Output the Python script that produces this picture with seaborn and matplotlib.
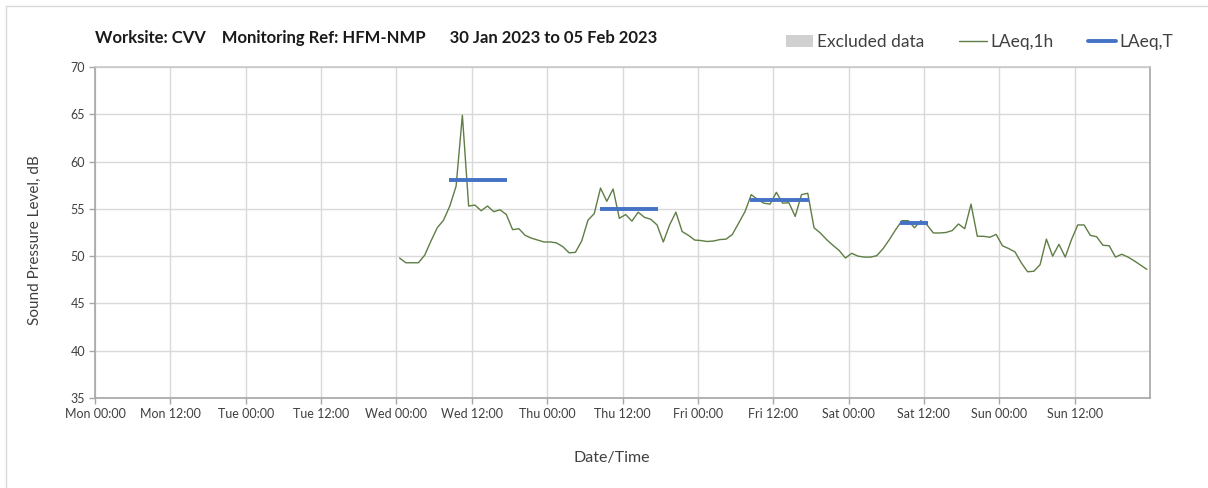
import pandas as pd
import matplotlib
matplotlib.use("Agg")
import matplotlib.pyplot as plt
from matplotlib.patches import Patch
from matplotlib.lines import Line2D
import seaborn as sns

# ===== DATA =====
first_hour = "2023-02-01 00:30"

laeq_1h = [
    # Wed
    49.8, 49.3, 49.3, 49.3, 50.1, 51.6, 53.0, 53.8, 55.3, 57.4, 64.9, 55.3,
    55.4, 54.8, 55.3, 54.7, 54.9, 54.4, 52.8, 52.9, 52.2, 51.9, 51.7, 51.5,
    # Thu
    51.5, 51.4, 51.0, 50.35, 50.4, 51.6, 53.8, 54.5, 57.2, 55.8, 57.1, 54.0,
    54.4, 53.7, 54.65, 54.1, 53.9, 53.3, 51.5, 53.3, 54.65, 52.6, 52.2, 51.7,
    # Fri
    51.65, 51.55, 51.6, 51.75, 51.8, 52.3, 53.5, 54.7, 56.5, 56.0, 55.6, 55.5,
    56.75, 55.6, 55.65, 54.2, 56.5, 56.65, 53.0, 52.45, 51.75, 51.15, 50.6, 49.8,
    # Sat
    50.3, 50.0, 49.9, 49.9, 50.05, 50.8, 51.75, 52.8, 53.75, 53.75, 53.0, 53.75,
    53.3, 52.45, 52.45, 52.5, 52.7, 53.4, 52.9, 55.5, 52.1, 52.1, 52.0, 52.3,
    # Sun
    51.1, 50.8, 50.45, 49.3, 48.35, 48.4, 49.1, 51.8, 50.0, 51.25, 49.9, 51.75,
    53.3, 53.3, 52.2, 52.05, 51.15, 51.1, 49.9, 50.2, 49.9, 49.5, 49.05, 48.6,
]

period_start = ["2023-02-01 08:24", "2023-02-02 08:24", "2023-02-03 08:15", "2023-02-04 08:12"]
period_end = ["2023-02-01 17:36", "2023-02-02 17:40", "2023-02-03 17:42", "2023-02-04 12:36"]
laeq_t = [58.0, 55.0, 55.9, 53.5]

week_start = "2023-01-30 00:00"
week_end = "2023-02-06 00:00"
y_ticks = [35, 40, 45, 50, 55, 60, 65, 70]

title = "Worksite: CVV    Monitoring Ref: HFM-NMP      30 Jan 2023 to 05 Feb 2023"

# ===== STYLE =====
sns.set_theme(style="whitegrid")
plt.rcParams["font.family"] = ["Lato", "DejaVu Sans"]

line_col = "#5f7d45"
blue_col = "#4472c4"
text_col = "#404040"

df = pd.DataFrame({
    "time": pd.date_range(first_hour, periods=len(laeq_1h), freq="h"),
    "LAeq,1h": laeq_1h,
})

fig = plt.figure(figsize=(12.08, 4.88), dpi=100)
ax = fig.add_axes([95 / 1208, 1 - 398 / 488, 1055 / 1208, 331 / 488])

sns.lineplot(data=df, x="time", y="LAeq,1h", ax=ax, color=line_col, linewidth=1.0)
ax.hlines(laeq_t, pd.to_datetime(period_start), pd.to_datetime(period_end),
          colors=blue_col, linewidth=2.8, zorder=3)

# ===== AXES =====
ticks = pd.date_range(week_start, periods=14, freq="12h")
ax.set_xlim(pd.Timestamp(week_start), pd.Timestamp(week_end))
ax.set_xticks(ticks)
ax.set_xticklabels([t.strftime("%a %H:%M") for t in ticks])
ax.set_ylim(35, 70)
ax.set_yticks(y_ticks)

ax.grid(True, color="#d9d9d9", linewidth=1.0)
for side, sp in ax.spines.items():
    sp.set_visible(True)
    sp.set_color("#a6a6a6")
    sp.set_linewidth(1.2)
ax.spines["top"].set_color("#c8c8c8")

ax.tick_params(axis="both", labelsize=9, colors=text_col, length=4, width=1,
               color="#a6a6a6", pad=3, direction="out")
ax.tick_params(axis="x", bottom=True)
ax.tick_params(axis="y", left=True)

ax.set_xlabel("")
ax.set_ylabel("")
fig.text(35 / 1208, 1 - 240 / 488, "Sound Pressure Level, dB", rotation=90,
         ha="center", va="center", fontsize=11, color=text_col)
fig.text(612 / 1208, 1 - 458 / 488, "Date/Time", ha="center", va="center",
         fontsize=11.5, color=text_col)
fig.text(95 / 1208, 1 - 38 / 488, title, ha="left", va="center",
         fontsize=12, fontweight="bold", color="#1a1a1a")

# ===== LEGEND =====
handles = [
    Patch(facecolor="#d0d0d0", edgecolor="none"),
    Line2D([], [], color=line_col, linewidth=1.0),
    Line2D([], [], color=blue_col, linewidth=2.8),
]
fig.legend(handles, ["Excluded data", "LAeq,1h", "LAeq,T"], ncol=3,
           loc="center right", bbox_to_anchor=(1180 / 1208, 1 - 42 / 488),
           frameon=False, fontsize=12.5, handlelength=1.6, handletextpad=0.2,
           columnspacing=2.0, labelcolor=text_col, borderaxespad=0)

# figure border (left and top only visible)
fig.add_artist(Line2D([6 / 1208, 6 / 1208], [0, 1 - 6 / 488], color="#d9d9d9",
                      linewidth=1, transform=fig.transFigure))
fig.add_artist(Line2D([6 / 1208, 1], [1 - 6 / 488, 1 - 6 / 488], color="#d9d9d9",
                      linewidth=1, transform=fig.transFigure))

fig.savefig("out.png", dpi=100, facecolor="white")
plt.close(fig)
